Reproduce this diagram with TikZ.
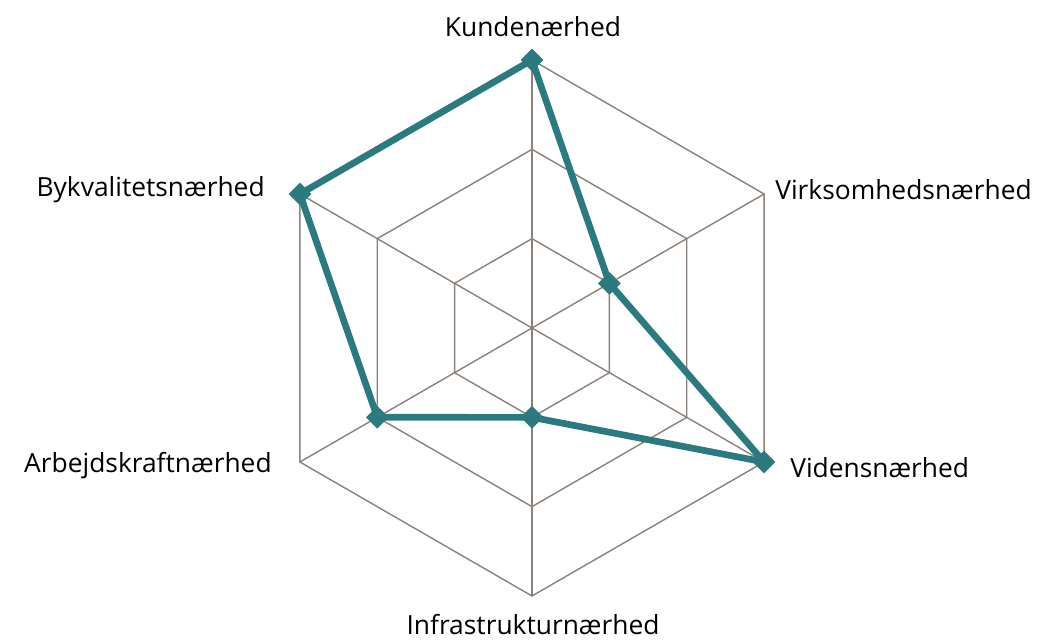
\documentclass[tikz,border=0pt]{standalone}
\usepackage{fontspec}
\setmainfont{Open Sans}
\usetikzlibrary{positioning,shapes.geometric}
\definecolor{gridline}{RGB}{140,128,122}
\definecolor{theme}{RGB}{43,122,128}
\tikzset{
  axislabel/.style={font=\fontsize{15}{18}\selectfont, inner sep=0pt},
  datapt/.style={diamond, fill=theme, inner sep=0pt, minimum size=0.46cm},
  gridstyle/.style={draw=gridline, line width=0.8pt},
}

\begin{document}
\begin{tikzpicture}
        \useasboundingbox (-10.64,-6.26) rectangle (10.14,6.56);

        % outer corners of the web
        \coordinate (o) at (0,0);
        \coordinate (k3) at (90:5.36);
        \coordinate (v3) at (30:5.36);
        \coordinate (vi3) at (-30:5.36);
        \coordinate (i3) at (-90:5.36);
        \coordinate (a3) at (210:5.36);
        \coordinate (b3) at (150:5.36);

        % rings
        \draw[gridstyle] (90:1.787) -- (30:1.787) -- (-30:1.787) -- (-90:1.787) -- (210:1.787) -- (150:1.787) -- cycle;
        \draw[gridstyle] (90:3.573) -- (30:3.573) -- (-30:3.573) -- (-90:3.573) -- (210:3.573) -- (150:3.573) -- cycle;
        \draw[gridstyle] (k3) -- (v3) -- (vi3) -- (i3) -- (a3) -- (b3) -- cycle;

        % spokes
        \draw[gridstyle] (o) -- (k3);
        \draw[gridstyle] (o) -- (v3);
        \draw[gridstyle] (o) -- (vi3);
        \draw[gridstyle] (o) -- (i3);
        \draw[gridstyle] (o) -- (a3);
        \draw[gridstyle] (o) -- (b3);

        % values
        \node[datapt] (kunde) at (90:5.36) {};
        \node[datapt] (virk) at (30:1.787) {};
        \node[datapt] (viden) at (-30:5.36) {};
        \node[datapt] (infra) at (-90:1.787) {};
        \node[datapt] (arb) at (210:3.573) {};
        \node[datapt] (byk) at (150:5.36) {};

        \draw[theme, line width=3.8pt, line join=round] (kunde.center) -- (virk.center) -- (viden.center) -- (infra.center) -- (arb.center) -- (byk.center) -- cycle;

        % labels
        \node[axislabel] (lkunde) at (0.02,6.02) {Kundenærhed};
        \node[axislabel, anchor=west] (lvirk) at (4.86,2.76) {Virksomhedsnærhed};
        \node[axislabel, anchor=west] (lviden) at (5.16,-2.8) {Vidensnærhed};
        \node[axislabel] (linfra) at (0.02,-5.94) {Infrastrukturnærhed};
        \node[axislabel, anchor=east] (larb) at (-5.2,-2.76) {Arbejdskraftnærhed};
        \node[axislabel, anchor=east] (lbyk) at (-5.34,2.76) {Bykvalitetsnærhed};
\end{tikzpicture}
\end{document}
